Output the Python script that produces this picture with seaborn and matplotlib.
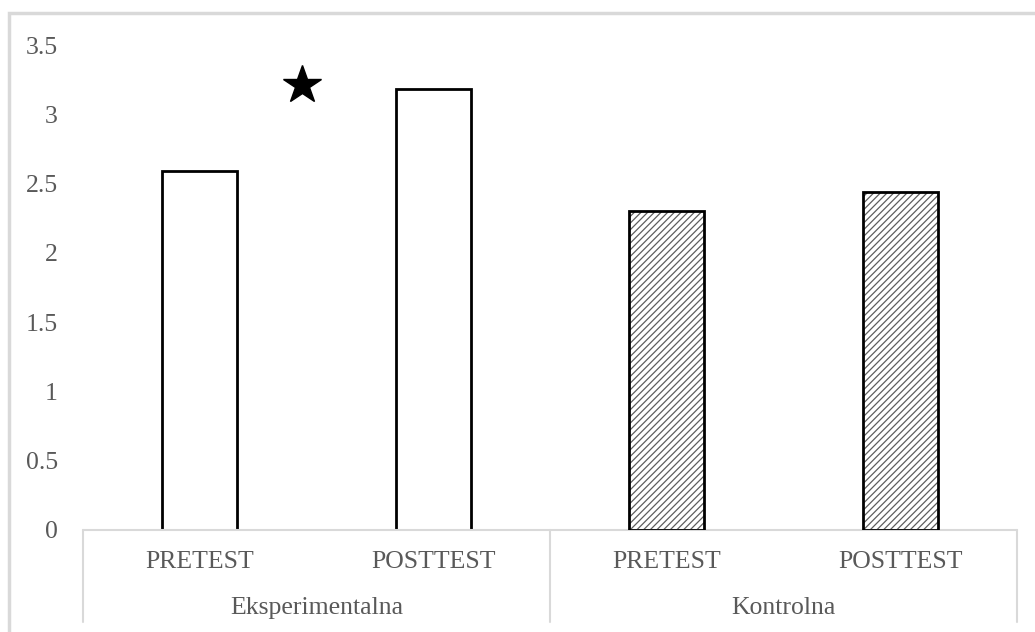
import matplotlib
matplotlib.use("Agg")
import matplotlib.pyplot as plt
from matplotlib.patches import Rectangle
import seaborn as sns
import pandas as pd

# data
groups = ["Eksperimentalna", "Eksperimentalna", "Kontrolna", "Kontrolna"]
tests = ["PRETEST", "POSTTEST", "PRETEST", "POSTTEST"]
values = [2.59, 3.18, 2.30, 2.44]
hatched = [False, False, True, True]
star_x = 0.44   # between the two experimental bars
star_y = 3.21
yticks = [0, 0.5, 1, 1.5, 2, 2.5, 3, 3.5]

df = pd.DataFrame({"group": groups, "test": tests, "value": values})
df["cond"] = df["group"] + " " + df["test"]

sns.set_theme(style="white")
plt.rcParams["font.family"] = ["Liberation Serif", "DejaVu Serif"]
plt.rcParams["hatch.linewidth"] = 0.9
TXT = "#595959"
GRID = "#d9d9d9"
FS = 18.5

fig = plt.figure(figsize=(10.35, 6.32), dpi=100)
ax = fig.add_axes([83 / 1035, 1 - 530 / 632, (1017 - 83) / 1035, (530 - 45) / 632])

sns.barplot(data=df, x="cond", y="value", order=list(df["cond"]), color="white",
            width=0.32, edgecolor="black", linewidth=2, ax=ax)

for p, h in zip(ax.patches, hatched):
    p.set_facecolor("white")
    if h:
        p.set_edgecolor("#5e5e5e")
        p.set_linewidth(0)
        p.set_hatch("/////")
        ax.add_patch(Rectangle(p.get_xy(), p.get_width(), p.get_height(),
                               fill=False, edgecolor="black", linewidth=2, zorder=3))

ax.plot([star_x], [star_y], marker="*", markersize=29, color="black", linestyle="none")

ax.set_ylim(0, 3.5)
ax.set_xlim(-0.5, len(values) - 0.5)
ax.set_yticks(yticks)
ax.set_yticklabels([f"{t:g}" for t in yticks])
ax.tick_params(axis="y", length=0, pad=18, labelsize=FS, labelcolor=TXT)
ax.set_xticks([])
ax.set_xlabel("")
ax.set_ylabel("")
for s in ax.spines.values():
    s.set_visible(False)

# category frame below the plot (Excel style multi-level axis)
tr = ax.get_xaxis_transform()
depth = -(622 - 530) / 485
ax.plot([-0.5, len(values) - 0.5], [0, 0], transform=tr, color=GRID, lw=1.5, clip_on=False)
for xb in [-0.5, 1.5, 3.5]:
    ax.plot([xb, xb], [0, depth], transform=tr, color=GRID, lw=1.5, clip_on=False)

for i, t in enumerate(tests):
    ax.text(i, -32 / 485, t, transform=tr, ha="center", va="center",
            fontsize=FS, color=TXT)
for g in dict.fromkeys(groups):
    idx = [i for i, gg in enumerate(groups) if gg == g]
    ax.text(sum(idx) / len(idx), -78 / 485, g, transform=tr, ha="center", va="center",
            fontsize=FS, color=TXT)

# outer chart border
fig.add_artist(Rectangle((9 / 1035, -0.05), 1.1, 1 - 13 / 632 + 0.05,
                         transform=fig.transFigure, fill=False, edgecolor=GRID, lw=2.5))

fig.savefig("out.png", dpi=100)
